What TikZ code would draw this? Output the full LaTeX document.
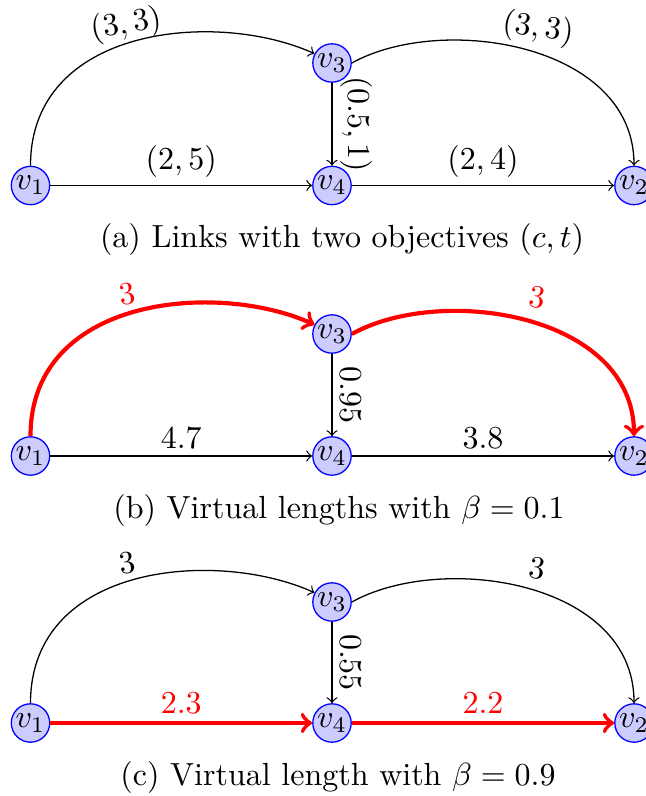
\documentclass[tikz,border=0pt]{standalone}
\begin{document}
\begin{tikzpicture}[x=0.3125pt,y=-0.3125pt,
  vtx/.style={circle,draw=blue,fill=blue!20,inner sep=0pt,minimum size=12pt},
  lbl/.style={inner sep=2.3pt},
  plain/.style={->},
  hot/.style={->,red,line width=1.3pt},
  capt/.style={inner sep=0pt},
  larc/.style={},
  rarc/.style={}]
\useasboundingbox (0,0) rectangle (646,796);

% ---------- panel (a)
\node[vtx] (a1) at (30.5,185.5) {$v_1$};
\node[vtx] (a3) at (332,63) {$v_3$};
\node[vtx] (a4) at (332,185.5) {$v_4$};
\node[vtx] (a2) at (634,185.5) {$v_2$};
\draw[plain] (a1.north) .. controls +(0,-140) and +(-97,-44) .. (a3.152);
\draw[plain] (a3.east) .. controls +(90,-50) and +(0,-122) .. (a2.north);
\draw[plain] (a1) -- node[lbl,above] {$(2,5)$} (a4);
\draw[plain] (a4) -- node[lbl,above] {$(2,4)$} (a2);
\draw[plain] (a3) -- node[lbl,midway,rotate=-90,anchor=south] {$(0.5,1)$} (a4);
\node[lbl,rotate=9] (la13) at (126,25) {$(3,3)$};
\node[lbl,rotate=-8] (la32) at (538,29) {$(3,3)$};
\node[capt] (capa) at (342,240) {(a) Links with two objectives $(c,t)$};

% ---------- panel (b)
\node[vtx] (b1) at (30.5,456) {$v_1$};
\node[vtx] (b3) at (332,334) {$v_3$};
\node[vtx] (b4) at (332,456) {$v_4$};
\node[vtx] (b2) at (634,456) {$v_2$};
\draw[hot] (b1.north) .. controls +(0,-140) and +(-97,-44) .. (b3.152);
\draw[hot] (b3.east) .. controls +(90,-50) and +(0,-122) .. (b2.north);
\draw[plain] (b1) -- node[lbl,above] {$4.7$} (b4);
\draw[plain] (b4) -- node[lbl,above] {$3.8$} (b2);
\draw[plain] (b3) -- node[lbl,midway,rotate=-90,anchor=south] {$0.95$} (b4);
\node[lbl,red,rotate=9] (lb13) at (127,294) {$3$};
\node[lbl,red,rotate=-8] (lb32) at (537,297) {$3$};
\node[capt] (capb) at (339,510) {(b) Virtual lengths with $\beta=0.1$};

% ---------- panel (c)
\node[vtx] (c1) at (30.5,723) {$v_1$};
\node[vtx] (c3) at (332,602) {$v_3$};
\node[vtx] (c4) at (332,723) {$v_4$};
\node[vtx] (c2) at (634,723) {$v_2$};
\draw[plain] (c1.north) .. controls +(0,-140) and +(-97,-44) .. (c3.152);
\draw[plain] (c3.east) .. controls +(90,-50) and +(0,-122) .. (c2.north);
\draw[hot] (c1) -- node[lbl,above] {$2.3$} (c4);
\draw[hot] (c4) -- node[lbl,above] {$2.2$} (c2);
\draw[plain] (c3) -- node[lbl,midway,rotate=-90,anchor=south] {$0.55$} (c4);
\node[lbl,rotate=9] (lc13) at (127,563) {$3$};
\node[lbl,rotate=-8] (lc32) at (537,568) {$3$};
\node[capt] (capc) at (338,777) {(c) Virtual length with $\beta=0.9$};
\end{tikzpicture}
\end{document}
